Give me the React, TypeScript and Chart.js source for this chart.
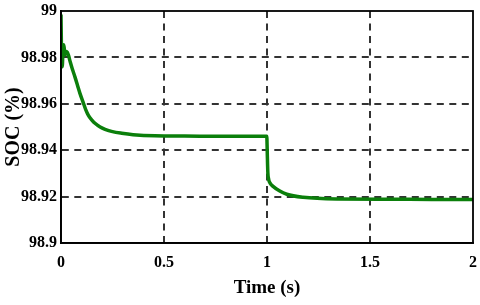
import React, { useEffect, useRef } from "react";
import { Chart, registerables } from "chart.js";

Chart.register(...registerables);

const timeS = [
  0, 0.002, 0.006, 0.01, 0.014, 0.019, 0.025, 0.031, 0.036, 0.045, 0.055, 0.068,
  0.08, 0.092, 0.108, 0.12, 0.133, 0.15, 0.165, 0.19, 0.214, 0.25, 0.295, 0.35,
  0.456, 0.6, 0.8, 0.999, 1.001, 1.004, 1.008, 1.015, 1.031, 1.06, 1.096, 1.175,
  1.338, 1.6, 1.8, 2.0,
];
const socPct = [
  98.9985, 98.985, 98.976, 98.984, 98.9855, 98.981, 98.9825, 98.9822, 98.981,
  98.978, 98.975, 98.9715, 98.968, 98.9645, 98.9605, 98.9575, 98.955, 98.953,
  98.9516, 98.95, 98.949, 98.948, 98.9473, 98.9467, 98.9462, 98.9461, 98.946,
  98.946, 98.94, 98.9305, 98.9275, 98.9258, 98.9243, 98.9225, 98.921, 98.9197,
  98.919, 98.9189, 98.9188, 98.9188,
];
const xTicks = [0, 0.5, 1, 1.5, 2];
const xTickLabels = ["0", "0.5", "1", "1.5", "2"];
const yTicks = [98.9, 98.92, 98.94, 98.96, 98.98, 99];
const yTickLabels = ["98.9", "98.92", "98.94", "98.96", "98.98", "99"];

const FONT = "'Liberation Serif', 'Times New Roman', serif";

const boxPlugin = {
  id: "boxFrame",
  afterDraw(chart: any) {
    const { ctx, chartArea } = chart;
    ctx.save();
    ctx.strokeStyle = "#000";
    ctx.lineWidth = 1.8;
    ctx.strokeRect(chartArea.left, chartArea.top, chartArea.right - chartArea.left, chartArea.bottom - chartArea.top);
    ctx.restore();
  },
};

export default function App() {
  const ref = useRef<HTMLCanvasElement | null>(null);
  useEffect(() => {
    if (!ref.current) return;
    const gridColor = (c: any) =>
      c.index === 0 || c.index === c.chart.scales[c.scale.id].ticks.length - 1 ? "rgba(0,0,0,0)" : "#333";
    const chart = new Chart(ref.current, {
      type: "line",
      data: {
        datasets: [
          {
            data: timeS.map((t, i) => ({ x: t, y: socPct[i] })),
            borderColor: "#0b7f0b",
            borderWidth: 3.5,
            pointRadius: 0,
            cubicInterpolationMode: "monotone",
            fill: false,
          },
        ],
      },
      options: {
        animation: false,
        responsive: false,
        layout: { padding: { top: 11, right: 7, left: 2, bottom: 6 } },
        plugins: { legend: { display: false }, tooltip: { enabled: false } },
        scales: {
          x: {
            type: "linear",
            min: 0,
            max: 2,
            afterBuildTicks: (s: any) => {
              s.ticks = xTicks.map((v) => ({ value: v }));
            },
            afterFit: (s: any) => {
              s.height = 56;
              s.paddingLeft = 0;
              s.paddingRight = 0;
            },
            ticks: {
              callback: (_v: any, i: number) => xTickLabels[i],
              color: "#000",
              font: { family: FONT, size: 16, weight: "bold" },
              padding: 10,
              maxRotation: 0,
            },
            grid: {
              color: gridColor,
              lineWidth: 2,
              drawTicks: false,
            },
            border: { display: true, color: "#000", width: 1.8, dash: [7, 5.5] },
            title: {
              display: true,
              text: "Time (s)",
              color: "#000",
              font: { family: FONT, size: 19, weight: "bold" },
              padding: { top: 0, bottom: 0 },
            },
          },
          y: {
            type: "linear",
            min: 98.9,
            max: 99,
            afterBuildTicks: (s: any) => {
              s.ticks = yTicks.map((v) => ({ value: v }));
            },
            afterFit: (s: any) => {
              s.width = 59;
              s.paddingTop = 0;
              s.paddingBottom = 0;
            },
            ticks: {
              callback: (_v: any, i: number) => yTickLabels[i],
              color: "#000",
              font: { family: FONT, size: 16, weight: "bold" },
              padding: 4,
            },
            grid: {
              color: gridColor,
              lineWidth: 2,
              drawTicks: false,
            },
            border: { display: true, color: "#000", width: 1.8, dash: [7, 5.5] },
            title: {
              display: true,
              text: "SOC (%)",
              color: "#000",
              font: { family: FONT, size: 20, weight: "bold" },
              padding: { top: 0, bottom: 0 },
            },
          },
        },
      },
      plugins: [boxPlugin],
    } as any);
    return () => chart.destroy();
  }, []);
  return (
    <div style={{ position: "fixed", left: 0, top: 0, width: 480, height: 305, background: "#fff" }}>
      <canvas ref={ref} width={480} height={305} style={{ width: 480, height: 305, display: "block" }} />
    </div>
  );
}
